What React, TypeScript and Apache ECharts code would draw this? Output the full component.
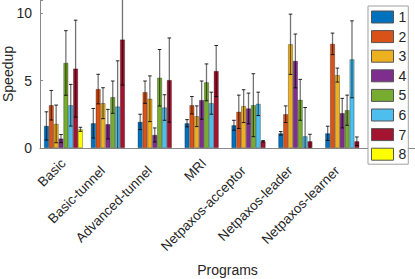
import React, { useEffect, useRef } from "react";
import * as echarts from "echarts";

const categories = [
  "Basic",
  "Basic-tunnel",
  "Advanced-tunnel",
  "MRI",
  "Netpaxos-acceptor",
  "Netpaxos-leader",
  "Netpaxos-learner",
];
const seriesNames = ["1", "2", "3", "4", "5", "6", "7", "8"];
const colors = ["#0072BD", "#D95319", "#EDB120", "#7E2F8E", "#77AC30", "#4DBEEE", "#A2142F", "#FFFF00"];

const values1 = [1.64, 1.84, 1.94, 1.84, 1.69, 1.09, 1.09];
const values2 = [3.18, 4.38, 4.15, 3.18, 2.69, 2.51, 7.74];
const values3 = [1.79, 3.33, 3.66, 2.36, 3.11, 7.71, 5.42];
const values4 = [0.7, 1.77, 0.97, 3.56, 2.94, 6.47, 2.59];
const values5 = [6.32, 3.78, 5.22, 4.88, 3.18, 3.58, 2.81];
const values6 = [3.18, 3.08, 3.01, 3.33, 3.28, 0.87, 6.59];
const values7 = [5.9, 8.06, 5.05, 5.72, 0.5, 0.5, 0.5];
const values8 = [1.39, null, null, null, null, null, null];

const err1 = [1.05, 1.1, 0.57, 0.27, 0.37, 0.13, 0.53];
const err2 = [1.1, 1.1, 0.83, 0.65, 1.24, 0.62, 0.8];
const err3 = [1.4, 1.15, 1.7, 0.77, 1.22, 2.24, 0.52];
const err4 = [0.3, 1.1, 0.52, 1.42, 1.14, 2.0, 1.1];
const err5 = [2.4, 1.2, 2.1, 1.37, 2.34, 1.52, 1.12];
const err6 = [1.55, 3.4, 0.95, 0.82, 0.87, 2.14, 2.86];
const err7 = [3.6, 3.38, 3.13, 1.9, 0.05, 0.52, 0.32];
const err8 = [0.15, null, null, null, null, null, null];

const yTicks = [0, 5, 10];

const allValues = [values1, values2, values3, values4, values5, values6, values7, values8];
const allErrs = [err1, err2, err3, err4, err5, err6, err7, err8];

const CAT_GAP = 0.17;
const FONT = '"Liberation Sans", Arial, Helvetica, sans-serif';
const TEXT = "#262626";
const SHORT_LABELS = ["Basic", "MRI"];

export default function App() {
  const ref = useRef<HTMLDivElement>(null);

  useEffect(() => {
    if (!ref.current) return;
    const chart = echarts.init(ref.current, undefined, { renderer: "svg" });

    const nSeries = allValues.length;
    const errData: any[] = [];
    allValues.forEach((vals, s) => {
      vals.forEach((v, c) => {
        const e = allErrs[s][c];
        if (v == null || e == null) return;
        errData.push([c, s, v - e, v + e]);
      });
    });

    const barSeries = allValues.map((vals, i) => ({
      name: seriesNames[i],
      type: "bar",
      data: vals.map((v) => (v == null ? "-" : v)),
      barGap: "0%",
      barCategoryGap: CAT_GAP * 100 + "%",
      itemStyle: {
        color: colors[i],
        borderColor: "rgba(0,0,0,0.5)",
        borderWidth: 0.6,
      },
    }));

    const xData = [...categories, ""].map((c) => ({
      value: c,
      textStyle: { padding: SHORT_LABELS.includes(c) ? [11, 0, 0, 0] : [10, 10.6, 0, 0] },
    }));

    const option: any = {
      animation: false,
      textStyle: { fontFamily: FONT },
      grid: {
        left: 40,
        right: 0,
        top: 0,
        bottom: 131,
        containLabel: false,
        outerBoundsMode: "none",
      },
      legend: {
        orient: "vertical",
        left: 368,
        top: 6,
        padding: [4, 2, 3, 3],
        itemWidth: 22,
        itemHeight: 12,
        itemGap: 5.6,
        icon: "rect",
        backgroundColor: "#fff",
        borderColor: "#a0a0a0",
        borderWidth: 1,
        data: seriesNames,
        itemStyle: { borderColor: "#555", borderWidth: 1 },
        textStyle: { color: TEXT, fontSize: 14, lineHeight: 12, fontFamily: FONT },
      },
      xAxis: {
        type: "category",
        data: xData,
        boundaryGap: true,
        axisLine: { lineStyle: { color: "#8a8a8a", width: 1 } },
        axisTick: { show: false },
        axisLabel: {
          rotate: 45,
          interval: 0,
          margin: 13,
          color: TEXT,
          fontSize: 13.5,
          fontFamily: FONT,
        },
        name: "Programs",
        nameLocation: "middle",
        nameGap: 115,
        nameTextStyle: { color: TEXT, fontSize: 14, fontFamily: FONT },
      },
      yAxis: {
        type: "value",
        min: 0,
        max: 11,
        interval: 5,
        splitLine: { show: false },
        axisLine: { show: true, lineStyle: { color: "#8a8a8a", width: 1 } },
        axisTick: { show: true, inside: true, length: 3, lineStyle: { color: "#8a8a8a" } },
        axisLabel: {
          color: TEXT,
          fontSize: 14,
          margin: 8,
          fontFamily: FONT,
          formatter: (v: number) => (yTicks.includes(v) ? String(v) : ""),
        },
        name: "Speedup",
        nameLocation: "middle",
        nameGap: 25,
        nameMoveOverlap: false,
        nameTextStyle: { color: TEXT, fontSize: 14, fontFamily: FONT },
      },
      series: [
        ...barSeries,
        {
          type: "custom",
          name: "err",
          clip: true,
          z: 5,
          data: errData,
          encode: { x: 0, y: [2, 3] },
          renderItem: (params: any, api: any) => {
            const c = api.value(0);
            const s = api.value(1);
            const lo = api.value(2);
            const hi = api.value(3);
            const band = api.size([1, 0])[0];
            const bw = (band * (1 - CAT_GAP)) / nSeries;
            const cx = api.coord([c, 0])[0] + (s - (nSeries - 1) / 2) * bw;
            const yLo = api.coord([c, lo])[1];
            const yHi = api.coord([c, hi])[1];
            const cap = 1.8;
            return {
              type: "group",
              children: [
                {
                  type: "line",
                  shape: { x1: cx, y1: yLo, x2: cx, y2: yHi },
                  style: { stroke: "rgba(0,0,0,0.55)", lineWidth: 1.3 },
                },
                {
                  type: "line",
                  shape: { x1: cx - cap, y1: yHi, x2: cx + cap, y2: yHi },
                  style: { stroke: "rgba(0,0,0,0.85)", lineWidth: 1 },
                },
                {
                  type: "line",
                  shape: { x1: cx - cap, y1: yLo, x2: cx + cap, y2: yLo },
                  style: { stroke: "rgba(0,0,0,0.85)", lineWidth: 1 },
                },
              ],
            };
          },
        },
      ],
    };

    chart.setOption(option);
    return () => chart.dispose();
  }, []);

  return (
    <div
      ref={ref}
      style={{ position: "fixed", left: 0, top: 0, width: 415, height: 279, background: "#fff" }}
    />
  );
}
